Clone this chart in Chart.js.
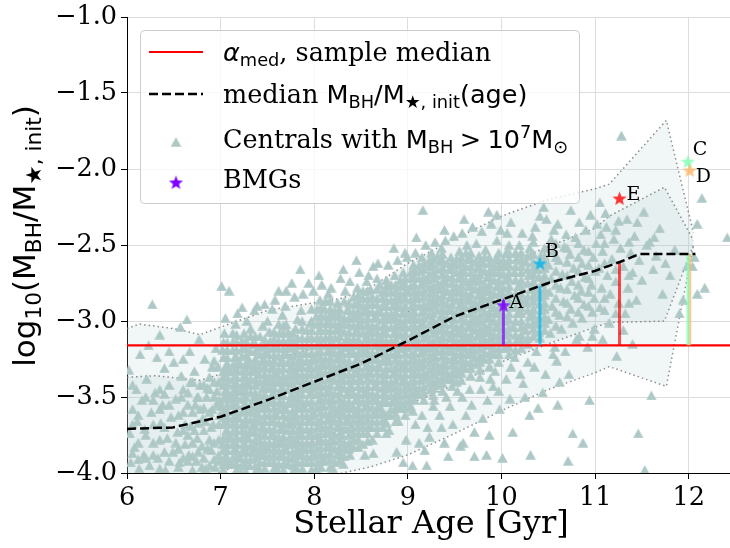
<!DOCTYPE html>
<html><head><meta charset="utf-8">
<script src="https://cdn.jsdelivr.net/npm/chart.js@4.4.0/dist/chart.umd.min.js"></script>
<style>html,body{margin:0;padding:0;background:#fff;}#wrap{width:730px;height:548px;}</style>
</head><body><div id="wrap"><canvas id="c" width="730" height="548"></canvas></div>
<script>
// ---------- data ----------
const xTickValues = [6, 7, 8, 9, 10, 11, 12];
const yTickValues = [-4.0, -3.5, -3.0, -2.5, -2.0, -1.5, -1.0];
const alphaMed = -3.16;

const medianAge   = [6.0, 6.49, 7.0, 7.5, 8.0, 8.5, 9.0, 9.5, 10.0, 10.5, 11.0, 11.27, 11.47, 12.07];
const medianRatio = [-3.71, -3.70, -3.63, -3.52, -3.40, -3.28, -3.13, -2.97, -2.86, -2.75, -2.67, -2.61, -2.56, -2.56];

const outerAge   = [6.0, 6.13, 6.5, 6.78, 7.0, 7.5, 8.0, 8.3, 8.6, 9.0, 9.5, 10.0, 10.5, 11.0, 11.15, 11.76, 12.05];
const outerUpper = [-3.05, -3.02, -3.05, -3.09, -3.04, -2.93, -2.88, -2.85, -2.78, -2.62, -2.46, -2.31, -2.20, -2.13, -2.10, -1.68, -2.42];
const outerLower = [-4.6, -4.6, -4.5, -4.45, -4.4, -4.25, -4.08, -4.0, -3.96, -3.88, -3.74, -3.59, -3.45, -3.34, -3.30, -3.43, -2.50];

const innerAge   = [6.0, 6.3, 6.78, 7.0, 7.5, 8.0, 8.5, 9.0, 9.5, 10.0, 10.5, 11.0, 11.15, 11.74, 12.05];
const innerUpper = [-3.37, -3.36, -3.39, -3.35, -3.26, -3.18, -3.07, -2.94, -2.80, -2.64, -2.51, -2.39, -2.31, -2.12, -2.47];
const innerLower = [-4.3, -4.25, -4.1, -3.99, -3.89, -3.79, -3.66, -3.55, -3.42, -3.27, -3.15, -3.04, -3.01, -3.00, -2.50];

const bmgNames  = ['A', 'B', 'C', 'D', 'E'];
const bmgAge    = [10.02, 10.41, 11.99, 12.01, 11.26];
const bmgRatio  = [-2.90, -2.625, -1.955, -2.013, -2.197];
const bmgMedian = [-2.86, -2.77, -2.56, -2.56, -2.61];

// individual centrals (age, log ratio)
const centrals = [
[6.02,-3.32],[6.03,-3.74],[6.04,-3.93],[6.06,-3.58],[6.08,-3.83],[6.10,-3.45],[6.11,-3.66],[6.13,-3.97],[6.14,-3.22],[6.16,-3.52],
[6.18,-3.88],[6.19,-3.71],[6.21,-3.38],[6.23,-3.16],[6.24,-3.95],[6.26,-3.60],[6.27,-2.89],[6.28,-3.80],[6.30,-3.47],[6.32,-3.24],
[6.33,-3.90],[6.35,-3.09],[6.36,-3.67],[6.38,-3.55],[6.40,-3.31],[6.41,-3.98],[6.43,-3.77],[6.45,-3.42],[6.47,-3.63],[6.49,-3.86],
[6.50,-3.27],[6.52,-3.51],[6.54,-3.73],[6.56,-3.93],[6.57,-3.04],[6.58,-3.36],[6.60,-3.60],[6.62,-3.81],[6.64,-2.99],[6.65,-3.47],
[6.67,-3.20],[6.68,-3.69],[6.70,-3.89],[6.72,-3.33],[6.73,-3.55],[6.75,-3.77],[6.77,-3.12],[6.78,-3.42],[6.80,-3.96],[6.81,-3.64],
[6.83,-3.25],[6.85,-3.50],[6.86,-3.84],[6.88,-3.37],[6.90,-3.70],[6.91,-3.58],[6.93,-3.91],[6.95,-3.18],[6.96,-3.46],[6.98,-3.78],
[6.99,-3.62],[6.97,-3.30],
[7.03,-3.98],[7.05,-3.89],[7.02,-3.81],[7.06,-3.72],[7.04,-3.63],[7.01,-3.56],[7.05,-3.46],[7.03,-3.37],[7.06,-3.29],[7.02,-3.19],[7.04,-3.08],[7.01,-2.77],[7.09,-2.80],
[7.12,-3.94],[7.14,-3.85],[7.11,-3.77],[7.13,-3.68],[7.15,-3.59],[7.12,-3.51],[7.14,-3.42],[7.11,-3.33],[7.15,-3.24],[7.13,-3.14],[7.16,-3.02],
[7.22,-3.99],[7.21,-3.90],[7.24,-3.81],[7.23,-3.72],[7.20,-3.64],[7.25,-3.55],[7.22,-3.46],[7.24,-3.37],[7.21,-3.28],[7.23,-3.18],[7.23,-2.91],[7.25,-3.08],
[7.31,-3.95],[7.33,-3.86],[7.30,-3.77],[7.34,-3.69],[7.32,-3.60],[7.35,-3.51],[7.31,-3.42],[7.33,-3.33],[7.30,-3.25],[7.34,-3.15],[7.32,-3.05],
[7.41,-3.97],[7.43,-3.88],[7.42,-3.79],[7.44,-3.70],[7.40,-3.61],[7.43,-3.53],[7.45,-3.44],[7.41,-3.35],[7.44,-3.26],[7.42,-3.17],[7.39,-2.90],[7.47,-2.89],[7.45,-3.03],
[7.52,-3.93],[7.51,-3.84],[7.54,-3.75],[7.53,-3.66],[7.50,-3.57],[7.55,-3.48],[7.52,-3.40],[7.54,-3.31],[7.51,-3.22],[7.53,-3.13],[7.50,-3.00],
[7.61,-3.98],[7.63,-3.89],[7.62,-3.80],[7.64,-3.71],[7.60,-3.62],[7.63,-3.53],[7.65,-3.44],[7.61,-3.36],[7.64,-3.27],[7.62,-3.18],[7.63,-3.08],[7.62,-2.80],[7.66,-2.96],
[7.72,-3.94],[7.71,-3.85],[7.74,-3.76],[7.73,-3.67],[7.70,-3.58],[7.75,-3.49],[7.72,-3.40],[7.74,-3.31],[7.71,-3.22],[7.73,-3.12],[7.76,-2.75],[7.70,-3.02],
[7.81,-3.97],[7.83,-3.88],[7.82,-3.79],[7.84,-3.70],[7.80,-3.61],[7.83,-3.52],[7.85,-3.43],[7.81,-3.34],[7.84,-3.25],[7.82,-3.16],[7.85,-2.66],[7.80,-3.05],[7.86,-2.93],
[7.92,-3.93],[7.91,-3.84],[7.94,-3.75],[7.93,-3.66],[7.90,-3.57],[7.95,-3.48],[7.92,-3.39],[7.94,-3.30],[7.91,-3.21],[7.93,-3.11],[7.94,-2.75],[7.96,-3.01],
[8.02,-3.97],[8.01,-3.88],[8.04,-3.79],[8.03,-3.70],[8.00,-3.61],[8.05,-3.52],[8.02,-3.43],[8.04,-3.34],[8.01,-3.25],[8.03,-3.16],[8.05,-3.06],[8.02,-2.97],[8.06,-2.86],
[8.11,-3.92],[8.13,-3.83],[8.12,-3.74],[8.14,-3.65],[8.10,-3.56],[8.13,-3.47],[8.15,-3.38],[8.11,-3.29],[8.14,-3.20],[8.12,-3.11],[8.13,-3.01],[8.11,-2.92],[8.15,-2.82],
[8.24,-3.88],[8.21,-3.79],[8.24,-3.70],[8.23,-3.61],[8.20,-3.52],[8.25,-3.43],[8.22,-3.34],[8.24,-3.25],[8.21,-3.16],[8.23,-3.06],[8.22,-2.97],[8.25,-2.88],[8.20,-3.97],
[8.31,-3.94],[8.33,-3.84],[8.30,-3.75],[8.34,-3.66],[8.32,-3.57],[8.35,-3.48],[8.31,-3.39],[8.33,-3.30],[8.30,-3.21],[8.34,-3.12],[8.32,-3.02],[8.31,-2.66],[8.35,-2.93],[8.33,-2.80],
[8.42,-3.78],[8.41,-3.70],[8.43,-3.61],[8.44,-3.52],[8.40,-3.43],[8.43,-3.34],[8.45,-3.25],[8.41,-3.16],[8.44,-3.07],[8.42,-2.98],[8.43,-2.89],[8.38,-3.88],[8.46,-2.78],
[8.54,-3.88],[8.52,-3.74],[8.51,-3.66],[8.54,-3.57],[8.53,-3.48],[8.50,-3.39],[8.55,-3.30],[8.52,-3.21],[8.54,-3.12],[8.51,-3.03],[8.53,-2.94],[8.52,-2.85],[8.56,-2.74],
[8.63,-3.87],[8.61,-3.70],[8.63,-3.61],[8.62,-3.52],[8.64,-3.43],[8.60,-3.34],[8.63,-3.25],[8.65,-3.16],[8.61,-3.07],[8.64,-2.98],[8.62,-2.89],[8.63,-2.64],[8.60,-2.79],
[8.73,-3.65],[8.77,-3.74],[8.71,-3.57],[8.74,-3.48],[8.73,-3.39],[8.70,-3.30],[8.75,-3.21],[8.72,-3.12],[8.74,-3.03],[8.71,-2.94],[8.73,-2.85],[8.70,-2.76],
[8.81,-3.62],[8.83,-3.53],[8.82,-3.44],[8.84,-3.35],[8.80,-3.26],[8.83,-3.17],[8.85,-3.08],[8.81,-2.99],[8.84,-2.90],[8.82,-2.81],[8.88,-3.86],[8.86,-2.70],
[8.92,-3.57],[8.91,-3.49],[8.94,-3.40],[8.93,-3.31],[8.90,-3.22],[8.95,-3.13],[8.92,-3.04],[8.94,-2.95],[8.91,-2.86],[8.93,-2.77],[8.97,-2.55],[8.95,-2.68],
[9.02,-3.52],[9.01,-3.44],[9.04,-3.35],[9.03,-3.26],[9.00,-3.17],[9.05,-3.08],[9.02,-2.99],[9.04,-2.90],[9.01,-2.81],[9.03,-2.72],[9.05,-3.59],[9.09,-2.45],[9.06,-2.63],
[9.11,-3.48],[9.13,-3.39],[9.12,-3.30],[9.14,-3.21],[9.10,-3.12],[9.13,-3.03],[9.15,-2.94],[9.11,-2.85],[9.14,-2.76],[9.12,-2.67],[9.16,-2.27],[9.15,-2.58],
[9.24,-3.45],[9.21,-3.36],[9.24,-3.27],[9.23,-3.18],[9.20,-3.09],[9.25,-3.00],[9.22,-2.91],[9.24,-2.82],[9.21,-2.73],[9.23,-2.64],[9.23,-3.76],[9.21,-3.70],[9.27,-3.56],[9.20,-3.95],[9.25,-2.55],
[9.31,-3.42],[9.33,-3.33],[9.30,-3.24],[9.34,-3.15],[9.32,-3.06],[9.35,-2.97],[9.31,-2.88],[9.33,-2.79],[9.30,-2.70],[9.34,-2.61],[9.34,-3.62],[9.36,-2.52],
[9.42,-3.38],[9.41,-3.29],[9.43,-3.20],[9.44,-3.11],[9.40,-3.02],[9.43,-2.93],[9.45,-2.84],[9.41,-2.75],[9.44,-2.66],[9.40,-2.47],[9.39,-3.80],[9.43,-3.89],[9.41,-3.50],[9.46,-2.58],
[9.52,-3.35],[9.51,-3.26],[9.54,-3.17],[9.53,-3.08],[9.50,-2.99],[9.55,-2.90],[9.52,-2.81],[9.54,-2.72],[9.51,-2.63],[9.56,-3.82],[9.55,-2.54],[9.53,-3.46],
[9.61,-3.31],[9.63,-3.22],[9.62,-3.13],[9.64,-3.04],[9.60,-2.95],[9.63,-2.86],[9.65,-2.77],[9.61,-2.68],[9.64,-2.59],[9.59,-3.80],[9.66,-3.45],[9.63,-2.50],
[9.73,-3.28],[9.71,-3.19],[9.74,-3.10],[9.72,-3.01],[9.70,-2.92],[9.75,-2.83],[9.72,-2.74],[9.74,-2.65],[9.73,-2.49],[9.71,-3.89],[9.71,-3.73],[9.77,-3.37],[9.76,-2.57],
[9.81,-3.25],[9.83,-3.16],[9.82,-3.07],[9.84,-2.98],[9.80,-2.89],[9.83,-2.80],[9.85,-2.71],[9.81,-2.62],[9.84,-3.88],[9.87,-3.75],[9.80,-3.64],[9.86,-2.28],[9.83,-2.53],
[9.92,-3.22],[9.91,-3.13],[9.94,-3.04],[9.93,-2.95],[9.90,-2.86],[9.95,-2.77],[9.92,-2.68],[9.94,-2.59],[9.91,-3.43],[9.95,-2.47],[9.93,-3.33],[9.98,-3.58],
[10.01,-3.90],[10.03,-3.18],[10.04,-3.09],[10.02,-3.00],[10.05,-2.91],[10.01,-2.82],[10.04,-2.73],[10.02,-2.64],[10.06,-2.42],[10.05,-2.55],[10.09,-3.51],[10.12,-3.73],
[10.14,-3.24],[10.16,-3.13],[10.13,-3.04],[10.17,-2.95],[10.15,-2.86],[10.18,-2.77],[10.14,-2.68],[10.16,-2.59],[10.19,-2.50],[10.23,-3.41],[10.28,-3.27],
[10.28,-3.15],[10.26,-3.06],[10.30,-2.97],[10.27,-2.88],[10.31,-2.79],[10.29,-2.70],[10.26,-2.61],[10.30,-2.52],[10.30,-3.62],[10.31,-3.88],[10.33,-2.44],
[10.39,-3.57],[10.44,-3.47],[10.41,-3.11],[10.38,-3.02],[10.42,-2.93],[10.40,-2.84],[10.43,-2.75],[10.39,-2.66],[10.41,-2.31],[10.42,-2.57],[10.37,-3.20],
[10.52,-3.08],[10.50,-2.99],[10.54,-2.90],[10.51,-2.81],[10.53,-2.72],[10.50,-2.63],[10.55,-2.54],[10.59,-3.26],[10.62,-3.40],[10.60,-3.55],[10.57,-3.17],[10.53,-2.46],
[10.64,-3.05],[10.62,-2.96],[10.66,-2.87],[10.63,-2.78],[10.65,-2.69],[10.61,-2.60],[10.60,-2.36],[10.67,-2.51],[10.71,-3.92],
[10.74,-2.27],[10.76,-3.01],[10.74,-2.92],[10.78,-2.83],[10.75,-2.74],[10.77,-2.65],[10.73,-2.56],[10.76,-3.74],[10.80,-3.12],[10.79,-2.45],
[10.87,-3.80],[10.86,-2.98],[10.88,-2.89],[10.85,-2.80],[10.89,-2.71],[10.86,-2.62],[10.88,-2.53],[10.92,-3.17],[10.94,-3.52],[10.90,-2.40],
[10.97,-2.94],[10.99,-2.85],[10.96,-2.76],[11.00,-2.67],[10.98,-2.58],[11.01,-2.49],[10.99,-3.05],[11.02,-2.36],
[11.05,-2.91],[11.07,-2.78],[11.04,-2.65],[11.08,-2.54],[11.06,-2.43],[11.10,-2.93],[11.11,-2.29],[11.13,-2.70],[11.15,-3.01],[11.16,-2.82],
[11.18,-2.59],[11.20,-2.46],[11.23,-3.23],[11.22,-2.74],[11.25,-2.88],[11.27,-2.52],[11.28,-1.78],[11.30,-2.64],[11.32,-2.95],[11.34,-2.33],
[11.35,-2.78],[11.38,-2.55],[11.40,-2.68],[11.42,-2.44],[11.44,-2.86],[11.46,-3.74],[11.47,-2.60],[11.50,-2.73],
[11.53,-3.98],[11.55,-2.50],[11.58,-2.48],[11.60,-3.49],[11.62,-2.66],[11.65,-2.57],[11.69,-2.39],[11.72,-2.82],[11.75,-2.62],[11.80,-2.70],
[11.85,-2.53],[11.90,-2.95],[11.94,-2.86],[11.98,-2.64],[12.04,-2.64],[12.06,-2.58],[12.09,-2.82],[12.09,-2.36],[12.14,-2.19],[12.17,-2.78],[12.41,-2.45]
];

// centrals along the fuzzy edges of the crowd (age, log ratio)
const centralsEdge = [
[7.05,-2.98],[7.18,-2.95],[7.28,-3.00],[7.36,-2.93],[7.55,-2.92],[7.58,-2.86],[7.69,-2.90],[7.79,-2.84],[7.88,-2.82],[7.99,-2.80],
[8.08,-2.76],[8.18,-2.78],[8.28,-2.72],[8.38,-2.74],[8.48,-2.68],[8.58,-2.70],[8.68,-2.62],[8.79,-2.63],[8.89,-2.60],[8.99,-2.58],
[9.08,-2.55],[9.19,-2.50],[9.29,-2.48],[9.39,-2.40],[9.49,-2.44],[9.58,-2.42],[9.69,-2.38],[9.79,-2.41],[9.89,-2.36],[9.99,-2.40],
[10.10,-2.35],[10.22,-2.42],[10.36,-2.38],[10.48,-2.33],[10.56,-2.40],[10.69,-2.43],[10.83,-2.35],[10.95,-2.30],[11.12,-2.38],[11.25,-2.34],
[11.45,-2.35],[11.52,-2.28],[11.63,-2.45],[11.05,-2.22],[10.45,-2.25],[9.95,-2.30],[9.60,-2.33],[8.85,-2.52],[8.45,-2.60],[8.05,-2.70],[7.70,-2.80],
[8.80,-3.72],[8.90,-3.66],[8.98,-3.78],[9.08,-3.68],[9.15,-3.62],[9.18,-3.85],[9.28,-3.52],[9.36,-3.70],[9.45,-3.56],[9.48,-3.68],
[9.58,-3.50],[9.62,-3.62],[9.68,-3.55],[9.78,-3.45],[9.85,-3.52],[9.88,-3.38],[9.97,-3.46],[10.05,-3.38],[10.10,-3.30],[10.20,-3.35],
[10.25,-3.50],[10.35,-3.30],[10.47,-3.35],[10.55,-3.22],[10.68,-3.20],[10.72,-3.35],[10.83,-3.10],[10.97,-3.10],[11.08,-3.12],[11.30,-3.06],
[11.40,-3.15],[9.05,-3.95],[8.95,-3.93],[9.12,-3.80],
[6.52,-3.80],[6.58,-3.50],[6.62,-3.68],[6.66,-3.88],[6.68,-3.40],[6.72,-3.72],[6.74,-3.92],[6.78,-3.58],[6.80,-3.82],[6.84,-3.66],
[6.86,-3.44],[6.90,-3.85],[6.92,-3.68],[6.94,-3.96],[6.96,-3.55],[6.98,-3.40],[6.99,-3.92],[6.91,-3.30],[6.84,-3.97],[6.75,-3.50]
];

// more centrals in the crowded core, grouped by age: [age, [log ratios...]]
const centralsCore = [
[6.06,[-3.68,-3.87,-3.42]],[6.20,[-3.50,-3.75,-3.90]],[6.35,[-3.45,-3.78,-3.97,-3.58]],[6.45,[-3.55,-3.92,-3.20]],
[6.60,[-3.45,-3.72,-3.90,-3.25]],[6.70,[-3.60,-3.80,-3.40,-3.98]],[6.82,[-3.42,-3.72,-3.90,-3.57]],[6.93,[-3.50,-3.80,-3.26,-3.40]],
[6.12,[-3.80,-3.62,-3.91]],[6.28,[-3.68,-3.88,-3.52]],[6.40,[-3.70,-3.86,-3.48]],[6.55,[-3.62,-3.84,-3.96]],
[6.65,[-3.75,-3.92,-3.55]],[6.76,[-3.67,-3.86,-3.50]],[6.88,[-3.60,-3.78,-3.95,-3.45]],[6.98,[-3.68,-3.88,-3.52]],
[7.07,[-3.94,-3.85,-3.76,-3.67,-3.59,-3.50,-3.41,-3.33,-3.24,-3.14]],
[7.17,[-3.98,-3.89,-3.81,-3.72,-3.63,-3.55,-3.46,-3.37,-3.28,-3.19,-3.09]],
[7.27,[-3.95,-3.86,-3.77,-3.68,-3.59,-3.50,-3.41,-3.32,-3.23,-3.13]],
[7.37,[-3.99,-3.90,-3.82,-3.73,-3.64,-3.56,-3.47,-3.38,-3.29,-3.20,-3.10]],
[7.47,[-3.93,-3.84,-3.75,-3.66,-3.57,-3.48,-3.39,-3.30,-3.21,-3.12]],
[7.57,[-3.97,-3.88,-3.80,-3.71,-3.62,-3.53,-3.44,-3.35,-3.26,-3.17,-3.07]],
[7.67,[-3.94,-3.85,-3.76,-3.67,-3.58,-3.49,-3.40,-3.31,-3.22,-3.13,-3.03]],
[7.77,[-3.99,-3.90,-3.81,-3.72,-3.63,-3.54,-3.45,-3.36,-3.27,-3.18,-3.08]],
[7.87,[-3.93,-3.84,-3.75,-3.66,-3.57,-3.48,-3.39,-3.30,-3.21,-3.11,-3.00]],
[7.97,[-3.98,-3.89,-3.80,-3.71,-3.62,-3.53,-3.44,-3.35,-3.26,-3.16,-3.06,-2.92]],
[8.07,[-3.92,-3.83,-3.74,-3.65,-3.56,-3.47,-3.38,-3.29,-3.20,-3.11,-3.01,-2.91]],
[8.17,[-3.96,-3.87,-3.78,-3.69,-3.60,-3.51,-3.42,-3.33,-3.24,-3.15,-3.06,-2.96,-2.87]],
[8.27,[-3.92,-3.83,-3.74,-3.65,-3.56,-3.47,-3.38,-3.29,-3.20,-3.10,-3.01,-2.92]],
[8.37,[-3.80,-3.71,-3.62,-3.53,-3.44,-3.35,-3.26,-3.17,-3.07,-2.98,-2.88]],
[8.47,[-3.83,-3.74,-3.65,-3.57,-3.48,-3.39,-3.30,-3.21,-3.12,-3.02,-2.93,-2.83]],
[8.57,[-3.79,-3.70,-3.61,-3.52,-3.43,-3.34,-3.25,-3.16,-3.07,-2.98,-2.89,-2.80]],
[8.67,[-3.74,-3.66,-3.57,-3.48,-3.39,-3.30,-3.21,-3.12,-3.03,-2.94,-2.85,-2.72]],
[8.77,[-3.67,-3.53,-3.44,-3.35,-3.26,-3.17,-3.08,-2.99,-2.90,-2.81,-2.73]],
[8.87,[-3.66,-3.57,-3.48,-3.39,-3.30,-3.21,-3.12,-3.03,-2.94,-2.85,-2.76]],
[8.97,[-3.62,-3.53,-3.44,-3.35,-3.26,-3.17,-3.08,-2.99,-2.90,-2.81,-2.72]],
[9.07,[-3.48,-3.39,-3.30,-3.21,-3.12,-3.03,-2.94,-2.85,-2.76,-2.67]],
[9.17,[-3.52,-3.43,-3.34,-3.25,-3.16,-3.07,-2.98,-2.89,-2.80,-2.71,-2.62]],
[9.27,[-3.49,-3.40,-3.31,-3.22,-3.13,-3.04,-2.95,-2.86,-2.77,-2.68,-2.59]],
[9.37,[-3.46,-3.37,-3.28,-3.19,-3.10,-3.01,-2.92,-2.83,-2.74,-2.65,-2.56]],
[9.47,[-3.43,-3.34,-3.25,-3.16,-3.07,-2.98,-2.89,-2.80,-2.71,-2.62]],
[9.57,[-3.39,-3.30,-3.21,-3.12,-3.03,-2.94,-2.85,-2.76,-2.67,-2.58]],
[9.67,[-3.36,-3.27,-3.18,-3.09,-3.00,-2.91,-2.82,-2.73,-2.64,-2.55]],
[9.77,[-3.32,-3.23,-3.14,-3.05,-2.96,-2.87,-2.78,-2.69,-2.61]],
[9.87,[-3.30,-3.21,-3.12,-3.03,-2.94,-2.85,-2.76,-2.67,-2.58]],
[9.97,[-3.27,-3.18,-3.09,-3.00,-2.91,-2.82,-2.73,-2.64,-2.55]],
[10.08,[-3.22,-3.13,-3.04,-2.95,-2.86,-2.77,-2.68,-2.59,-2.50]],
[10.21,[-3.18,-3.09,-3.00,-2.91,-2.82,-2.73,-2.64,-2.55]],
[10.34,[-3.10,-3.01,-2.92,-2.83,-2.74,-2.65,-2.56,-2.48]],
[10.46,[-3.06,-2.97,-2.88,-2.79,-2.70,-2.61,-2.52]],
[10.58,[-3.03,-2.94,-2.85,-2.76,-2.67,-2.58,-2.49]],
[10.70,[-2.97,-2.88,-2.79,-2.70,-2.61,-2.52]],
[10.82,[-2.94,-2.85,-2.76,-2.67,-2.58,-2.49]],
[10.93,[-2.90,-2.81,-2.72,-2.63,-2.54]],
[11.10,[-2.85,-2.62,-2.49]],[11.22,[-2.95,-2.66,-2.40]],[11.36,[-2.70,-2.48,-2.88]],
[7.07,[-3.90,-3.81,-3.72,-3.63,-3.55,-3.46,-3.37,-3.28,-3.19]],
[7.17,[-3.94,-3.85,-3.76,-3.68,-3.59,-3.50,-3.41,-3.32,-3.24,-3.14]],
[7.27,[-3.99,-3.91,-3.82,-3.73,-3.64,-3.55,-3.46,-3.37,-3.28,-3.18]],
[7.37,[-3.95,-3.86,-3.78,-3.69,-3.60,-3.51,-3.42,-3.33,-3.25,-3.15]],
[7.47,[-3.97,-3.88,-3.80,-3.71,-3.62,-3.53,-3.44,-3.35,-3.26,-3.16]],
[7.57,[-3.93,-3.84,-3.75,-3.66,-3.57,-3.48,-3.40,-3.31,-3.22,-3.12]],
[7.67,[-3.98,-3.89,-3.80,-3.71,-3.62,-3.54,-3.45,-3.36,-3.27,-3.18,-3.08]],
[7.77,[-3.95,-3.86,-3.77,-3.68,-3.59,-3.50,-3.41,-3.32,-3.23,-3.13]],
[7.87,[-3.97,-3.88,-3.80,-3.71,-3.62,-3.53,-3.44,-3.35,-3.26,-3.16,-3.05]],
[7.97,[-3.93,-3.84,-3.75,-3.66,-3.57,-3.48,-3.40,-3.31,-3.21,-3.11,-3.00]],
[8.07,[-3.96,-3.87,-3.78,-3.69,-3.60,-3.51,-3.42,-3.33,-3.24,-3.15,-3.06,-2.96]],
[8.17,[-3.91,-3.82,-3.73,-3.64,-3.55,-3.46,-3.37,-3.28,-3.19,-3.10,-3.01,-2.92]],
[8.27,[-3.87,-3.78,-3.69,-3.60,-3.51,-3.42,-3.33,-3.24,-3.15,-3.05,-2.96]],
[8.37,[-3.84,-3.75,-3.66,-3.57,-3.48,-3.39,-3.30,-3.21,-3.12,-3.02,-2.93]],
[8.47,[-3.78,-3.69,-3.61,-3.52,-3.43,-3.34,-3.25,-3.16,-3.07,-2.97,-2.88]],
[8.57,[-3.74,-3.65,-3.56,-3.47,-3.38,-3.29,-3.20,-3.11,-3.02,-2.93,-2.85]],
[8.67,[-3.70,-3.61,-3.52,-3.43,-3.34,-3.25,-3.16,-3.07,-2.98,-2.89,-2.79]],
[8.77,[-3.62,-3.49,-3.40,-3.31,-3.22,-3.13,-3.04,-2.95,-2.86,-2.77]],
[8.87,[-3.61,-3.52,-3.43,-3.34,-3.25,-3.16,-3.07,-2.98,-2.89,-2.80]],
[8.97,[-3.57,-3.48,-3.39,-3.30,-3.21,-3.12,-3.03,-2.94,-2.85,-2.76]],
[9.07,[-3.52,-3.43,-3.34,-3.25,-3.16,-3.07,-2.98,-2.89,-2.80,-2.71]],
[9.17,[-3.47,-3.38,-3.29,-3.20,-3.11,-3.02,-2.93,-2.84,-2.75,-2.66]],
[9.27,[-3.44,-3.35,-3.26,-3.17,-3.08,-2.99,-2.90,-2.81,-2.72,-2.63]],
[9.37,[-3.41,-3.32,-3.23,-3.14,-3.05,-2.96,-2.87,-2.78,-2.69,-2.60]],
[9.47,[-3.38,-3.29,-3.20,-3.11,-3.02,-2.93,-2.84,-2.75,-2.66]],
[9.57,[-3.34,-3.25,-3.16,-3.07,-2.98,-2.89,-2.80,-2.71,-2.62]],
[9.67,[-3.31,-3.22,-3.13,-3.04,-2.95,-2.86,-2.77,-2.68,-2.59]],
[9.77,[-3.27,-3.18,-3.09,-3.00,-2.91,-2.82,-2.73,-2.65]],
[9.87,[-3.25,-3.16,-3.07,-2.98,-2.89,-2.80,-2.71,-2.62]],
[9.97,[-3.22,-3.13,-3.04,-2.95,-2.86,-2.77,-2.68,-2.60]],
[10.08,[-3.17,-3.08,-2.99,-2.90,-2.81,-2.72,-2.63,-2.55]],
[10.21,[-3.13,-3.04,-2.95,-2.86,-2.77,-2.68,-2.60]],
[10.34,[-3.05,-2.96,-2.87,-2.78,-2.69,-2.61]],
[10.46,[-3.01,-2.92,-2.83,-2.74,-2.65,-2.57]],
[7.03,[-3.94,-3.85,-3.77,-3.68,-3.60,-3.51,-3.42,-3.33,-3.24,-3.14]],
[7.13,[-3.90,-3.81,-3.73,-3.64,-3.55,-3.47,-3.38,-3.29,-3.19,-3.08]],
[7.23,[-3.95,-3.86,-3.77,-3.68,-3.60,-3.51,-3.42,-3.33,-3.23,-3.13]],
[7.32,[-3.91,-3.82,-3.73,-3.65,-3.56,-3.47,-3.38,-3.29,-3.20,-3.10]],
[7.42,[-3.93,-3.84,-3.75,-3.66,-3.57,-3.49,-3.40,-3.31,-3.22,-3.10]],
[7.52,[-3.89,-3.80,-3.71,-3.62,-3.53,-3.44,-3.36,-3.27,-3.18,-3.07]],
[7.62,[-3.94,-3.85,-3.76,-3.67,-3.58,-3.49,-3.40,-3.32,-3.23,-3.13,-3.02]],
[7.72,[-3.90,-3.81,-3.72,-3.63,-3.54,-3.45,-3.36,-3.27,-3.17,-3.07]],
[7.82,[-3.93,-3.84,-3.75,-3.66,-3.57,-3.48,-3.39,-3.30,-3.21,-3.11,-2.99]],
[7.92,[-3.89,-3.80,-3.71,-3.62,-3.53,-3.44,-3.35,-3.26,-3.16,-3.06]],
[8.03,[-3.93,-3.84,-3.75,-3.66,-3.57,-3.48,-3.39,-3.30,-3.21,-3.11,-3.02,-2.92]],
[8.12,[-3.88,-3.79,-3.70,-3.61,-3.52,-3.43,-3.34,-3.25,-3.16,-3.06,-2.97,-2.87]],
[8.22,[-3.93,-3.84,-3.75,-3.66,-3.57,-3.48,-3.39,-3.30,-3.21,-3.11,-3.02,-2.93]],
[8.32,[-3.89,-3.80,-3.71,-3.62,-3.53,-3.44,-3.35,-3.26,-3.17,-3.07,-2.98,-2.87]],
[8.42,[-3.83,-3.74,-3.66,-3.57,-3.48,-3.39,-3.30,-3.21,-3.12,-3.03,-2.94,-2.84]],
[8.52,[-3.81,-3.70,-3.62,-3.53,-3.44,-3.35,-3.26,-3.17,-3.08,-2.99,-2.90,-2.80]],
[8.62,[-3.78,-3.66,-3.57,-3.48,-3.39,-3.30,-3.21,-3.12,-3.03,-2.94,-2.84]],
[8.73,[-3.70,-3.61,-3.53,-3.44,-3.35,-3.26,-3.17,-3.08,-2.99,-2.90,-2.81]],
[8.82,[-3.58,-3.49,-3.40,-3.31,-3.22,-3.13,-3.04,-2.95,-2.86,-2.76]],
[8.92,[-3.53,-3.45,-3.36,-3.27,-3.18,-3.09,-3.00,-2.91,-2.82,-2.73]],
[9.03,[-3.56,-3.48,-3.40,-3.31,-3.22,-3.13,-3.04,-2.95,-2.86,-2.77,-2.68]],
[9.12,[-3.44,-3.35,-3.26,-3.17,-3.08,-2.99,-2.90,-2.81,-2.72,-2.63]],
[9.23,[-3.41,-3.32,-3.23,-3.14,-3.05,-2.96,-2.87,-2.78,-2.69,-2.60]],
[9.32,[-3.38,-3.29,-3.20,-3.11,-3.02,-2.93,-2.84,-2.75,-2.66,-2.57]],
[9.42,[-3.34,-3.25,-3.16,-3.07,-2.98,-2.89,-2.80,-2.71,-2.62]],
[9.52,[-3.40,-3.31,-3.22,-3.13,-3.04,-2.95,-2.86,-2.77,-2.68,-2.59]],
[9.62,[-3.27,-3.18,-3.09,-3.00,-2.91,-2.82,-2.73,-2.64,-2.55]],
[9.72,[-3.24,-3.15,-3.06,-2.97,-2.88,-2.79,-2.70,-2.61]],
[9.82,[-3.21,-3.12,-3.03,-2.94,-2.85,-2.76,-2.67,-2.58]],
[9.92,[-3.18,-3.09,-3.00,-2.91,-2.82,-2.73,-2.64]],
[10.02,[-3.14,-3.05,-2.96,-2.87,-2.78,-2.69,-2.60]],
[10.15,[-3.19,-3.09,-3.00,-2.91,-2.82,-2.73,-2.64,-2.55]],
[10.28,[-3.11,-3.02,-2.93,-2.84,-2.75,-2.66,-2.57]],
[10.40,[-3.07,-2.98,-2.89,-2.80,-2.71,-2.62]]
];

// ---------- styling ----------
const X_MIN = 6, X_MAX = 12.44, Y_MIN = -4, Y_MAX = -1;
const SCATTER_COLOR = '#adc8c6';
const BAND_FILL = 'rgba(172,200,199,0.17)';
const BAND_LINE = 'rgba(120,120,120,0.85)';
const BMG_COLORS = ['rgba(128,0,255,0.8)', 'rgba(0,180,236,0.8)', 'rgba(128,255,180,0.8)', 'rgba(255,180,98,0.8)', 'rgba(255,0,0,0.8)'];
const BMG_LINE_COLORS = ['rgba(128,0,255,0.7)', 'rgba(0,180,236,0.7)', 'rgba(128,255,180,0.7)', 'rgba(255,180,98,0.7)', 'rgba(255,0,0,0.7)'];
const LABEL_OFFSETS = [[6, 2], [5, -7], [5, -7], [6, 11], [7, 1]];

function makeTriangle(color) {
  const c = document.createElement('canvas'); c.width = 11; c.height = 10;
  const g = c.getContext('2d'); g.fillStyle = color;
  g.beginPath(); g.moveTo(5.5, 0.2); g.lineTo(10.8, 9.8); g.lineTo(0.2, 9.8); g.closePath(); g.fill();
  return c;
}
function makeStar(color, R) {
  const s = Math.ceil(R * 2 + 2); const c = document.createElement('canvas'); c.width = s; c.height = s;
  const g = c.getContext('2d'); g.fillStyle = color; g.beginPath();
  const r = R * 0.42;
  for (let i = 0; i < 10; i++) {
    const a = -Math.PI / 2 + i * Math.PI / 5; const rr = i % 2 ? r : R;
    const px = s / 2 + rr * Math.cos(a), py = s / 2 + rr * Math.sin(a);
    if (i) g.lineTo(px, py); else g.moveTo(px, py);
  }
  g.closePath(); g.fill(); return c;
}
const triImg = makeTriangle(SCATTER_COLOR);
const starImgs = BMG_COLORS.map(c => makeStar(c, 7.5));
const legendStar = makeStar('rgb(128,0,255)', 7.5);

const pts = (xs, ys) => xs.map((x, i) => ({ x: x, y: ys[i] }));
const lineBase = { type: 'line', pointRadius: 0, tension: 0, clip: 0, fill: false };

const centralPoints = centrals.concat(centralsEdge).map(p => ({ x: p[0], y: p[1] }));
centralsCore.forEach(([age, ratios]) => ratios.forEach(r => centralPoints.push({ x: age, y: r })));

const datasets = [
  Object.assign({}, lineBase, { data: pts(outerAge, outerUpper), borderColor: BAND_LINE, borderWidth: 1.5, borderDash: [1.5, 3], fill: '+1', backgroundColor: BAND_FILL, order: 20 }),
  Object.assign({}, lineBase, { data: pts(outerAge, outerLower), borderColor: BAND_LINE, borderWidth: 1.5, borderDash: [1.5, 3], order: 20 }),
  Object.assign({}, lineBase, { data: pts(innerAge, innerUpper), borderColor: BAND_LINE, borderWidth: 1.5, borderDash: [1.5, 3], fill: '+1', backgroundColor: BAND_FILL, order: 19 }),
  Object.assign({}, lineBase, { data: pts(innerAge, innerLower), borderColor: BAND_LINE, borderWidth: 1.5, borderDash: [1.5, 3], order: 19 }),
  { type: 'scatter', data: centralPoints, pointStyle: triImg, pointRadius: 5, clip: 0, order: 10 },
  Object.assign({}, lineBase, { data: [{ x: X_MIN, y: alphaMed }, { x: X_MAX, y: alphaMed }], borderColor: '#ff0000', borderWidth: 2.2, order: 6 }),
];
bmgAge.forEach((a, i) => {
  datasets.push(Object.assign({}, lineBase, { data: [{ x: a, y: alphaMed }, { x: a, y: bmgMedian[i] }], borderColor: BMG_LINE_COLORS[i], borderWidth: 3, order: 5 }));
});
datasets.push(Object.assign({}, lineBase, { data: pts(medianAge, medianRatio), borderColor: '#000', borderWidth: 2.5, borderDash: [9, 4], order: 4 }));
datasets.push({ type: 'scatter', data: pts(bmgAge, bmgRatio), pointStyle: starImgs, pointRadius: 7, clip: 0, order: 1 });

// ---------- rich text helpers ----------
function fontFor(kind, size) {
  if (kind === 'serif') return { f: size + 'px "DejaVu Serif"', dy: 0 };
  if (kind === 'sans') return { f: size + 'px "DejaVu Sans"', dy: 0 };
  if (kind === 'it') return { f: 'oblique ' + size + 'px "DejaVu Sans"', dy: 0 };
  if (kind === 'sub') return { f: (size * 0.7).toFixed(1) + 'px "DejaVu Sans"', dy: size * 0.2 };
  if (kind === 'sup') return { f: (size * 0.7).toFixed(1) + 'px "DejaVu Sans"', dy: -size * 0.38 };
}
function richWidth(ctx, parts, size) {
  let w = 0; for (const [t, k] of parts) { ctx.font = fontFor(k, size).f; w += ctx.measureText(t).width; } return w;
}
function drawRich(ctx, x, y, parts, size) {
  let cx = x;
  for (const [t, k] of parts) { const s = fontFor(k, size); ctx.font = s.f; ctx.fillText(t, cx, y + s.dy); cx += ctx.measureText(t).width; }
  return cx;
}

const decorations = {
  id: 'decorations',
  afterDraw(chart) {
    const ctx = chart.ctx, xs = chart.scales.x, ys = chart.scales.y;
    ctx.save();
    ctx.fillStyle = '#000'; ctx.textBaseline = 'alphabetic'; ctx.textAlign = 'left';
    ctx.font = '19px "DejaVu Serif"';
    bmgNames.forEach((n, i) => {
      ctx.fillText(n, xs.getPixelForValue(bmgAge[i]) + LABEL_OFFSETS[i][0], ys.getPixelForValue(bmgRatio[i]) + LABEL_OFFSETS[i][1]);
    });
    // legend
    ctx.beginPath(); ctx.roundRect(140.5, 30.5, 439, 173, 4);
    ctx.fillStyle = 'rgba(255,255,255,0.8)'; ctx.fill();
    ctx.strokeStyle = '#cccccc'; ctx.lineWidth = 1; ctx.stroke();
    ctx.strokeStyle = '#ff0000'; ctx.lineWidth = 2.2; ctx.beginPath(); ctx.moveTo(149, 52); ctx.lineTo(203, 52); ctx.stroke();
    ctx.strokeStyle = '#000'; ctx.lineWidth = 2.5; ctx.setLineDash([9, 4]); ctx.beginPath(); ctx.moveTo(149, 94); ctx.lineTo(203, 94); ctx.stroke(); ctx.setLineDash([]);
    ctx.drawImage(triImg, 176 - 5.5, 142 - 5);
    ctx.drawImage(legendStar, 176 - legendStar.width / 2, 183 - legendStar.height / 2);
    ctx.fillStyle = '#000';
    const LS = 25.5;
    drawRich(ctx, 223, 61, [['\u03b1', 'it'], ['med', 'sub'], [', sample median', 'serif']], LS);
    drawRich(ctx, 223, 103, [['median ', 'serif'], ['M', 'sans'], ['BH', 'sub'], ['/M', 'sans'], ['\u2605, init', 'sub'], ['(age)', 'sans']], LS);
    drawRich(ctx, 223, 148, [['Centrals with ', 'serif'], ['M', 'sans'], ['BH', 'sub'], ['\u2005>\u200510', 'sans'], ['7', 'sup'], ['M', 'sans'], ['\u2299', 'sub']], LS);
    drawRich(ctx, 223, 188, [['BMGs', 'serif']], LS);
    // x title
    ctx.font = '32px "DejaVu Serif"'; ctx.textAlign = 'center';
    ctx.fillText('Stellar Age [Gyr]', 431, 533);
    ctx.textAlign = 'left';
    // y title
    const yParts = [['log', 'sans'], ['10', 'sub'], ['(M', 'sans'], ['BH', 'sub'], ['/M', 'sans'], ['\u2605, init', 'sub'], [')', 'sans']];
    const YS = 31;
    const w = richWidth(ctx, yParts, YS);
    ctx.translate(35, 236); ctx.rotate(-Math.PI / 2);
    drawRich(ctx, -w / 2, 0, yParts, YS);
    ctx.restore();
  }
};

new Chart(document.getElementById('c'), {
  type: 'scatter',
  data: { datasets: datasets },
  plugins: [decorations],
  options: {
    responsive: false, animation: false, devicePixelRatio: 1,
    layout: { autoPadding: false, padding: { top: 17, right: 0, bottom: 0, left: 0 } },
    plugins: { legend: { display: false }, tooltip: { enabled: false }, title: { display: false } },
    scales: {
      x: {
        type: 'linear', position: 'bottom', min: X_MIN, max: X_MAX,
        afterFit: s => { s.height = 75; s.paddingLeft = 0; s.paddingRight = 0; },
        afterBuildTicks: s => { s.ticks = xTickValues.map(v => ({ value: v })); },
        ticks: { stepSize: 1, includeBounds: false, color: '#000', padding: 4, font: { family: 'DejaVu Serif', size: 25.5 }, maxRotation: 0, callback: v => String(v) },
        grid: { color: '#dddddd', lineWidth: 1, tickColor: '#000', tickLength: 6, tickWidth: 1 },
        border: { color: '#000', width: 1 }
      },
      y: {
        type: 'linear', position: 'left', min: Y_MIN, max: Y_MAX,
        afterFit: s => { s.width = 127; s.paddingTop = 0; s.paddingBottom = 0; },
        afterBuildTicks: s => { s.ticks = yTickValues.map(v => ({ value: v })); },
        ticks: { stepSize: 0.5, includeBounds: false, color: '#000', padding: 4, font: { family: 'DejaVu Serif', size: 25.5 }, callback: v => (v < 0 ? '\u2212' : '') + Math.abs(v).toFixed(1) },
        grid: { color: '#dddddd', lineWidth: 1, tickColor: '#000', tickLength: 6, tickWidth: 1 },
        border: { color: '#000', width: 1 }
      }
    }
  }
});
</script></body></html>
